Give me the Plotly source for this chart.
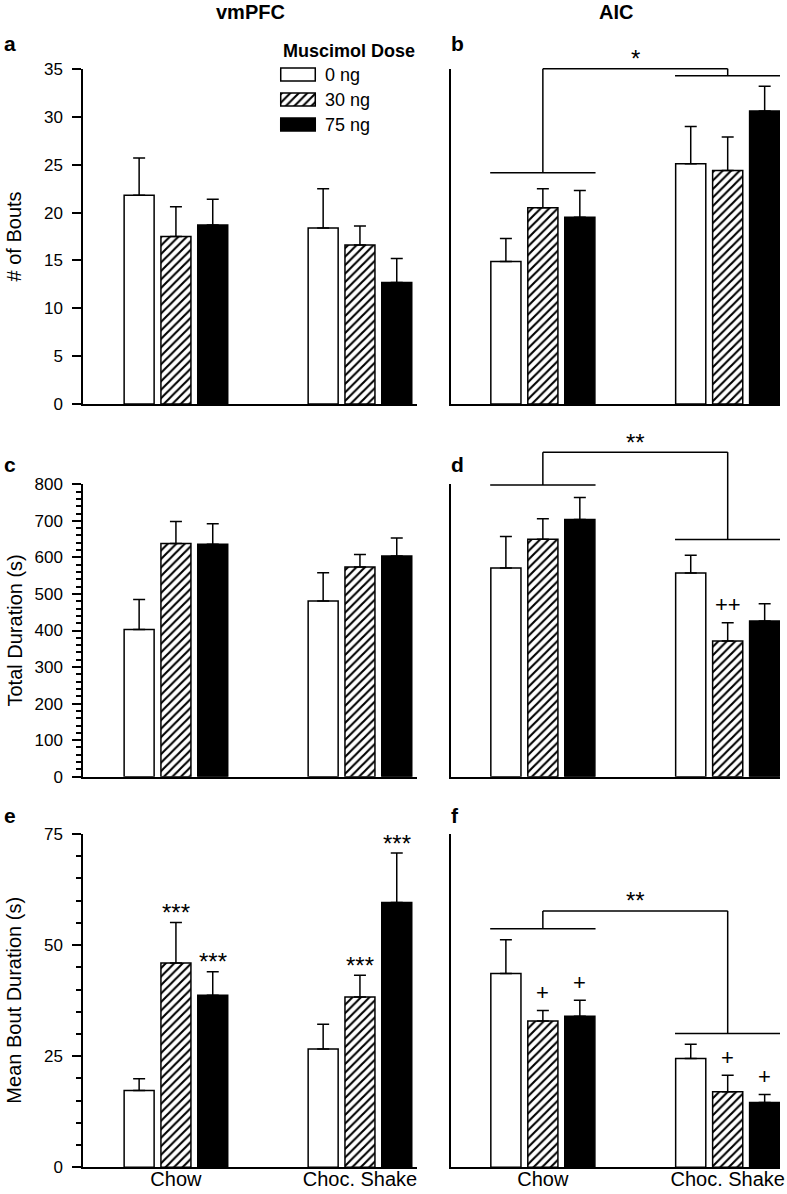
import plotly.graph_objects as go

W, H = 787, 1194
FONT = "Liberation Sans, Arial, sans-serif"

# ---------------- data ----------------
categories = ["Chow", "Choc. Shake"]
doses = ["0 ng", "30 ng", "75 ng"]

# rows = dose (0, 30, 75 ng), columns = category (Chow, Choc. Shake)
bouts_vmpfc_mean = [[21.8, 18.4], [17.5, 16.6], [18.7, 12.7]]
bouts_vmpfc_sem = [[3.9, 4.1], [3.1, 2.0], [2.7, 2.5]]
bouts_aic_mean = [[14.9, 25.1], [20.5, 24.4], [19.5, 30.6]]
bouts_aic_sem = [[2.4, 3.9], [2.0, 3.5], [2.8, 2.6]]

total_vmpfc_mean = [[403, 481], [638, 574], [636, 604]]
total_vmpfc_sem = [[82, 77], [60, 34], [56, 49]]
total_aic_mean = [[571, 557], [650, 371], [704, 426]]
total_aic_sem = [[86, 49], [56, 50], [60, 47]]

mean_vmpfc_mean = [[17.3, 26.6], [46.0, 38.3], [38.7, 59.6]]
mean_vmpfc_sem = [[2.6, 5.6], [9.1, 4.9], [5.3, 11.1]]
mean_aic_mean = [[43.6, 24.5], [32.9, 17.0], [34.0, 14.6]]
mean_aic_sem = [[7.6, 3.2], [2.4, 3.7], [3.6, 1.8]]

# significance marks above bars: (dose index, category index, text)
marks_e = [(1, 0, "***"), (2, 0, "***"), (1, 1, "***"), (2, 1, "***")]
marks_d = [(1, 1, "++")]
marks_f = [(1, 0, "+"), (2, 0, "+"), (1, 1, "+"), (2, 1, "+")]

# group-comparison brackets: (chow line level, top level, shake line level, text)
bracket_b = (24.15, 35.03, 34.3, "*")
bracket_d = (798, 888, 649, "**")
bracket_f = (53.7, 57.7, 30.1, "**")

# ---------------- layout geometry (pixels) ----------------
def px(x):
    return x / W

def py(y):
    return 1 - y / H

col_x = [(83, 417), (451, 780)]
row_y = [(69, 404), (484.3, 776.7), (834, 1167.3)]
y_max = [35, 800, 75]
y_dtick = [5, 100, 25]
y_minor = [None, 20, 5]
y_titles = ["# of Bouts", "Total Duration (s)", "Mean Bout Duration (s)"]
x_ranges = [(-0.505, 1.31), (-0.497, 1.283)]

panels = [
    ("a", 0, 0, bouts_vmpfc_mean, bouts_vmpfc_sem),
    ("b", 0, 1, bouts_aic_mean, bouts_aic_sem),
    ("c", 1, 0, total_vmpfc_mean, total_vmpfc_sem),
    ("d", 1, 1, total_aic_mean, total_aic_sem),
    ("e", 2, 0, mean_vmpfc_mean, mean_vmpfc_sem),
    ("f", 2, 1, mean_aic_mean, mean_aic_sem),
]

def dose_marker(i):
    if i == 0:
        return dict(color="white", line=dict(color="black", width=1.5))
    if i == 1:
        return dict(color="white", line=dict(color="black", width=1.5),
                    pattern=dict(shape="/", fgcolor="black", bgcolor="white",
                                 size=6, solidity=0.35))
    return dict(color="black", line=dict(color="black", width=1.5))

fig = go.Figure()
annotations = []
shapes = []
layout = {}

for k, (letter, r, c, means, sems) in enumerate(panels):
    n = k + 1
    xa = "x" if n == 1 else f"x{n}"
    ya = "y" if n == 1 else f"y{n}"
    for i, dose in enumerate(doses):
        fig.add_trace(go.Bar(
            x=[0, 1], y=means[i], name=dose, xaxis=xa, yaxis=ya,
            marker=dose_marker(i), showlegend=False,
            error_y=dict(type="data", symmetric=False, array=sems[i],
                         arrayminus=[0, 0], color="black", thickness=1.5, width=6),
        ))
    x0, x1 = col_x[c]
    y0, y1 = row_y[r]
    layout["xaxis" if n == 1 else f"xaxis{n}"] = dict(
        domain=[px(x0), px(x1)], range=list(x_ranges[c]), anchor=ya,
        showline=True, linecolor="black", linewidth=1.5, ticks="",
        showgrid=False, zeroline=False, tickvals=[0, 1], ticktext=categories,
        showticklabels=(r == 2), tickfont=dict(size=20, color="black"),
        ticklabelstandoff=-7, automargin=False,
    )
    yax = dict(
        domain=[py(y1), py(y0)], range=[0, y_max[r]], anchor=xa,
        showline=True, linecolor="black", linewidth=1.5,
        showgrid=False, zeroline=False, automargin=False,
    )
    if c == 0:
        yax.update(ticks="outside", ticklen=9, tickwidth=1.5, tickcolor="black",
                   tick0=0, dtick=y_dtick[r], tickfont=dict(size=17, color="black"),
                   ticklabelstandoff=6)
        if y_minor[r]:
            yax["minor"] = dict(dtick=y_minor[r], tick0=0, ticks="outside", ticklen=5,
                                tickwidth=1.5, tickcolor="black")
        annotations.append(dict(
            x=px(14), y=py((y0 + y1) / 2), xref="paper", yref="paper",
            text=y_titles[r], textangle=-90, showarrow=False,
            xanchor="center", yanchor="middle", font=dict(size=20)))
    else:
        yax.update(ticks="", showticklabels=False)
    layout["yaxis" if n == 1 else f"yaxis{n}"] = yax

    # panel letter
    lx = 2 if c == 0 else 449
    ly = [44, 464, 815][r]
    annotations.append(dict(
        x=px(lx), y=py(ly), xref="paper", yref="paper", text=f"<b>{letter}</b>",
        showarrow=False, xanchor="left", yanchor="middle", font=dict(size=21)))

    # significance marks over bars
    marks = {"d": marks_d, "e": marks_e, "f": marks_f}.get(letter, [])
    for (di, ci, txt) in marks:
        top = means[di][ci] + sems[di][ci]
        star = "*" in txt
        annotations.append(dict(
            x=ci + (di - 1) * 0.2, y=top, xref=xa, yref=ya, text=txt,
            showarrow=False, xanchor="center", yanchor="middle",
            yshift=10 if star else 18, font=dict(size=24 if star else 22)))

    # brackets
    br = {"b": bracket_b, "d": bracket_d, "f": bracket_f}.get(letter)
    if br:
        lo, top, hi, txt = br
        def yp(v):
            return py(y1) + v / y_max[r] * (py(y0) - py(y1))
        line = dict(color="black", width=1.5)
        for (a, b_, ya_, yb_) in [
            (-0.285, 0.285, lo, lo),
            (0.715, 1.285, hi, hi),
            (0, 0, lo, top),
            (0, 1, top, top),
            (1, 1, top, hi),
        ]:
            shapes.append(dict(type="line", xref=xa, yref="paper",
                               x0=a, x1=b_, y0=yp(ya_), y1=yp(yb_), line=line))
        annotations.append(dict(
            x=0.5, y=yp(top), xref=xa, yref="paper", text=txt, showarrow=False,
            xanchor="center", yanchor="middle", yshift=10, font=dict(size=24)))

# column titles
for (x0, x1), title in zip(col_x, ["vmPFC", "AIC"]):
    annotations.append(dict(
        x=px((x0 + x1) / 2), y=py(12), xref="paper", yref="paper",
        text=f"<b>{title}</b>", showarrow=False, xanchor="center",
        yanchor="middle", font=dict(size=20)))

# legend (custom swatches on a hidden axis pair)
for i, dose in enumerate(doses):
    fig.add_trace(go.Bar(
        x=[1], y=[i], base=[0], orientation="h", width=0.52, offset=-0.26,
        marker=dose_marker(i), xaxis="x7", yaxis="y7", showlegend=False,
        hoverinfo="skip",
    ))
    annotations.append(dict(
        x=px(323), y=py(74.5 + 25 * i), xref="paper", yref="paper", text=dose,
        showarrow=False, xanchor="left", yanchor="middle", font=dict(size=18)))
annotations.append(dict(
    x=px(281), y=py(51), xref="paper", yref="paper", text="<b>Muscimol Dose</b>",
    showarrow=False, xanchor="left", yanchor="middle", font=dict(size=18)))
layout["xaxis7"] = dict(domain=[px(279), px(317)], range=[-0.05, 1.05], visible=False,
                        anchor="y7", fixedrange=True)
layout["yaxis7"] = dict(domain=[py(137), py(62)], range=[2.5, -0.5], visible=False,
                        anchor="x7", fixedrange=True)

fig.update_layout(
    template="none",
    width=W, height=H,
    margin=dict(l=0, r=0, t=0, b=0),
    paper_bgcolor="white", plot_bgcolor="rgba(0,0,0,0)",
    font=dict(family=FONT, color="black"),
    barmode="group", bargap=0.4, bargroupgap=0.185,
    annotations=annotations, shapes=shapes,
    showlegend=False,
    **layout,
)

fig.write_html(
    "out.html",
    config={"displayModeBar": False},
    post_script="document.body.style.margin='0';document.body.style.padding='0';",
)
